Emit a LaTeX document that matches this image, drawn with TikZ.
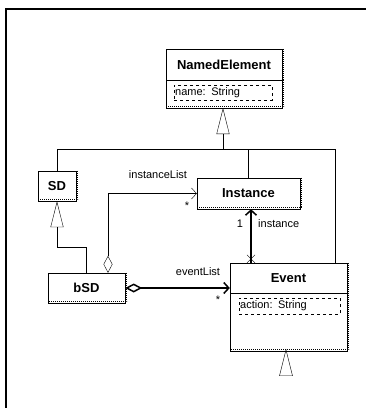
\documentclass[tikz,border=0pt]{standalone}
\usepackage{fontspec}
\setmainfont{Liberation Sans}
\usepackage{tikz}
\usetikzlibrary{arrows.meta,calc}

\tikzset{
  cls/.style={draw, fill=white, inner sep=0pt, font=\fontsize{13}{15}\selectfont\bfseries},
  comp/.style={draw, fill=white, inner sep=0pt},
  attr/.style={draw, dashed, inner xsep=1pt, inner ysep=0pt, align=left,
    font=\fontsize{11}{13}\selectfont},
  lbl/.style={font=\fontsize{11}{13}\selectfont, inner sep=0pt},
  gen/.style={-{Triangle[open,length=26pt,width=13pt]}},
  nav/.style={-{Straight Barb[length=5pt,width=11pt]}},
  agg/.style={{Diamond[open,length=17pt,width=9pt]}-{Straight Barb[length=5pt,width=11pt]}},
}

\begin{document}
\begin{tikzpicture}[x=1pt,y=-1pt]

    \useasboundingbox (0,0) rectangle (366,408);
    \draw[line width=1.5] (6,408) -- (6,9) -- (366,9);

    % classes
    \node[cls, minimum width=116pt, minimum height=31pt] (ne) at (224,64.5) {NamedElement};
    \node[comp, minimum width=116pt, minimum height=28pt] (nec) at (224,94) {};
    \node[attr, text width=96pt, minimum height=15pt, anchor=west] (neattr)
        at (174,92.5) {name: String};

    \node[cls, minimum width=38pt, minimum height=30pt] (sd) at (57,186) {SD};
    \node[cls, minimum width=103pt, minimum height=31pt] (inst) at (248.5,193.5) {Instance};
    \node[cls, minimum width=77pt, minimum height=30pt] (bsd) at (86.5,288) {bSD};

    \node[cls, minimum width=117pt, minimum height=30pt] (ev) at (288.5,278) {Event};
    \node[comp, minimum width=117pt, minimum height=58pt] (evc) at (288.5,322) {};
    \node[attr, text width=99pt, minimum height=16pt, anchor=west] (evattr)
        at (239,306) {action: String};

    % shadows
    \foreach \n in {nec,sd,inst,bsd,evc} {
        \draw[densely dotted, line width=1] ([xshift=1.5pt]\n.north east)
            -- ([shift={(1.5pt,1.5pt)}]\n.south east) -- ([yshift=1.5pt]\n.south west);
    }
    \draw[densely dotted, line width=1] ([xshift=1.5pt]ne.north east) -- ([xshift=1.5pt]ne.south east);
    \draw[densely dotted, line width=1] ([xshift=1.5pt]ev.north east) -- ([xshift=1.5pt]ev.south east);

    % generalizations
    \coordinate (g) at (223,149);
    \draw[gen] (g) -- (223,108);
    \draw (sd.north) |- (g);
    \draw (inst.north) |- (g);
    \draw (g) -| ([xshift=-12pt]ev.north east);
    \draw[gen] (bsd.north) -- ++(0,-26) -| (sd.south);
    \coordinate (et) at ([xshift=-2.5pt,yshift=1.5pt]evc.south);
    \draw (et) -- ++(-6.5,26) -- ++(13,0) -- cycle;

    % associations
    \draw[agg] ([xshift=21.5pt]bsd.north) |- (inst.west);
    \node[lbl] (il) at (158,175) {instanceList};
    \node[lbl] (ilm) at (187,206) {*};

    \draw[agg, line width=1.5] (bsd.east) -- (bsd.east -| ev.west);
    \node[lbl] (el) at (198,272) {eventList};
    \node[lbl] (elm) at (218,300) {*};

    \coordinate (ia) at ([xshift=2.5pt]inst.south);
    \coordinate (ib) at (ia |- ev.north);
    \draw[nav, line width=1.5] (ib) -- (ia);
    \draw ($(ib)+(-4,-8)$) -- ($(ib)+(4,0)$);
    \draw ($(ib)+(4,-8)$) -- ($(ib)+(-4,0)$);
    \node[lbl] (im) at (240,224) {1};
    \node[lbl, anchor=west] (in) at (258,224) {instance};

\end{tikzpicture}
\end{document}
